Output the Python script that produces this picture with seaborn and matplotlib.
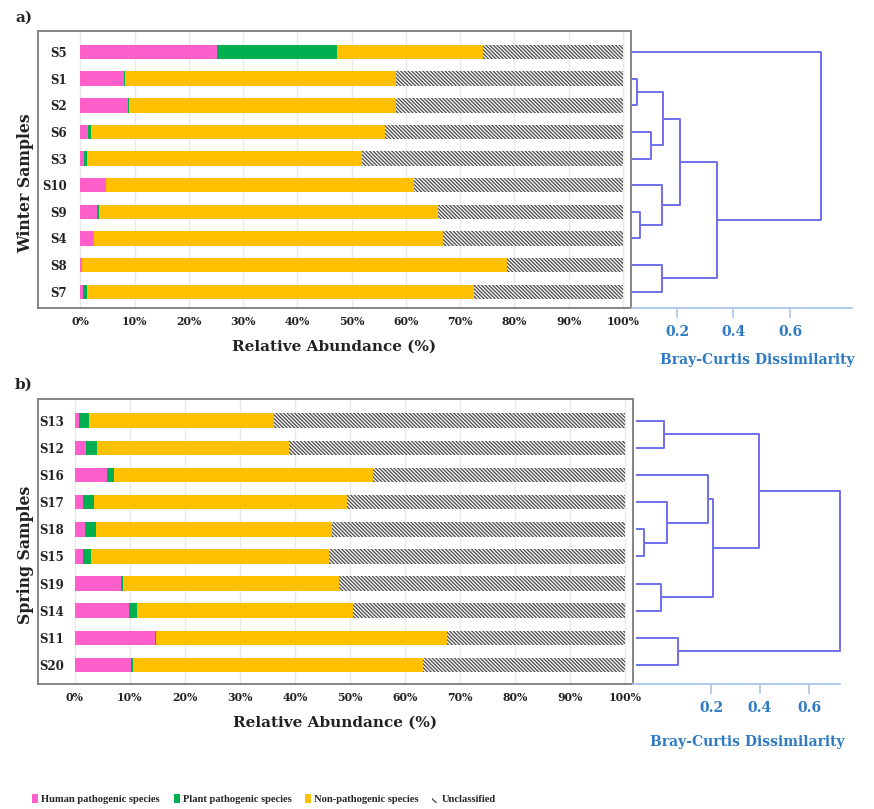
import matplotlib
matplotlib.use("Agg")
import matplotlib.pyplot as plt
from matplotlib.patches import Patch
import pandas as pd
import seaborn as sns

sns.set_theme(style="white")
plt.rcParams["font.family"] = ["DejaVu Serif"]
plt.rcParams["hatch.linewidth"] = 1.0

W, H = 874, 809

# relative abundance (%) per sample
winter_samples = ["S5", "S1", "S2", "S6", "S3", "S10", "S9", "S4", "S8", "S7"]
winter_human = [25.2, 8.0, 8.7, 1.5, 0.7, 4.8, 3.0, 2.6, 0.3, 0.5]
winter_plant = [22.1, 0.2, 0.3, 0.5, 0.5, 0.0, 0.4, 0.0, 0.0, 0.7]
winter_nonpath = [26.9, 50.0, 49.1, 54.2, 50.8, 56.7, 62.5, 64.2, 78.3, 71.4]

spring_samples = ["S13", "S12", "S16", "S17", "S18", "S15", "S19", "S14", "S11", "S20"]
spring_human = [0.7, 2.1, 5.9, 1.5, 1.9, 1.5, 8.4, 9.9, 14.5, 10.2]
spring_plant = [1.8, 2.0, 1.2, 1.9, 1.9, 1.5, 0.4, 1.4, 0.3, 0.3]
spring_nonpath = [33.7, 34.9, 47.1, 46.0, 43.0, 43.2, 39.3, 39.3, 52.9, 52.8]

# Bray-Curtis clustering: (child, child, height); ints refer to earlier merges
winter_merges = [
    ("S1", "S2", 0.058), ("S6", "S3", 0.107), (0, 1, 0.149),
    ("S9", "S4", 0.069), ("S10", 3, 0.146), (2, 4, 0.211),
    ("S8", "S7", 0.148), (5, 6, 0.340), ("S5", 7, 0.711),
]
spring_merges = [
    ("S13", "S12", 0.155), ("S18", "S15", 0.083), ("S17", 1, 0.164),
    ("S16", 2, 0.311), ("S19", "S14", 0.143), (3, 4, 0.327),
    (0, 5, 0.489), ("S11", "S20", 0.205), (6, 7, 0.776),
]
bc_ticks = [0.2, 0.4, 0.6]

categories = ["Human pathogenic species", "Plant pathogenic species",
              "Non-pathogenic species", "Unclassified"]
colors = ["#FF5FCB", "#00B050", "#FFC000", "white"]
HATCH = "\\" * 9
HATCH_COLOR = "#555555"
DENDRO_COLOR = "#6F6FEA"
SCALE_COLOR = "#A8C6EC"
BLUE_TEXT = "#2E7BC4"


def px_rect(x0, y0, x1, y1):
    return [x0 / W, 1 - y1 / H, (x1 - x0) / W, (y1 - y0) / H]


def stacked_bars(ax, samples, human, plant, nonpath, xlim, ylim, pad):
    df = pd.DataFrame({"sample": samples, "human": human,
                       "plant": plant, "nonpath": nonpath})
    df["c1"] = df["human"]
    df["c2"] = df["c1"] + df["plant"]
    df["c3"] = df["c2"] + df["nonpath"]
    df["c4"] = 100.0

    layers = [("c4", colors[3]), ("c3", colors[2]), ("c2", colors[1]), ("c1", colors[0])]
    for col, color in layers:
        n = len(ax.patches)
        sns.barplot(data=df, x=col, y="sample", orient="h", color=color,
                    saturation=1, width=0.54, errorbar=None, linewidth=0, ax=ax)
        if col == "c4":
            for p in ax.patches[n:]:
                p.set_hatch(HATCH)
                p.set_edgecolor(HATCH_COLOR)
                p.set_linewidth(0)

    ax.set_xlim(*xlim)
    ax.set_ylim(*ylim)
    ax.set_xticks(range(0, 101, 10))
    ax.set_xticklabels([f"{v}%" for v in range(0, 101, 10)],
                       fontsize=7.8, fontweight="bold", color="#222222")
    ax.tick_params(axis="x", length=0, pad=6)
    ax.tick_params(axis="y", length=0, pad=pad)
    for t in ax.get_yticklabels():
        t.set_fontweight("bold")
        t.set_fontsize(8.5)
        t.set_color("#222222")
    ax.xaxis.grid(True, color="#e9e9e9", lw=1.0)
    ax.set_axisbelow(True)
    for s in ax.spines.values():
        s.set_color("#858585")
        s.set_linewidth(1.4)
    ax.set_xlabel("Relative Abundance (%)", fontsize=11, fontweight="bold",
                  color="#222222", labelpad=9)


def dendrogram(ax, leaves, merges, xlim, ylim):
    pos = {name: i for i, name in enumerate(leaves)}
    height = {name: 0.0 for name in leaves}
    for k, (a, b, h) in enumerate(merges):
        for child in (a, b):
            ax.plot([height[child], h], [pos[child], pos[child]],
                    color=DENDRO_COLOR, lw=1.4, solid_capstyle="butt")
        ax.plot([h, h], [pos[a], pos[b]], color=DENDRO_COLOR, lw=1.4)
        pos[k] = (pos[a] + pos[b]) / 2
        height[k] = h
    ax.set_xlim(*xlim)
    ax.set_ylim(*ylim)
    ax.axis("off")


def scale_bar(fig, x0, x1, y, xlim):
    sax = fig.add_axes(px_rect(x0, y - 0.5, x1, y))
    sax.set_xlim(*xlim)
    sax.set_yticks([])
    for side in ["top", "left", "right"]:
        sax.spines[side].set_visible(False)
    sax.spines["bottom"].set_color(SCALE_COLOR)
    sax.spines["bottom"].set_linewidth(1.3)
    sax.patch.set_alpha(0)
    sax.set_xticks(bc_ticks)
    sax.set_xticklabels([f"{t:.1f}" for t in bc_ticks], fontsize=10,
                        fontweight="bold", color=BLUE_TEXT)
    sax.tick_params(axis="x", bottom=True, direction="out", length=7, width=1.2,
                    color=SCALE_COLOR, pad=5)
    return sax


fig = plt.figure(figsize=(W / 100, H / 100), dpi=100)

# ---- a) winter
ax1 = fig.add_axes(px_rect(37.5, 31, 631, 308))
stacked_bars(ax1, winter_samples, winter_human, winter_plant, winter_nonpath,
             xlim=(-7.9, 101.5), ylim=(9.61, -0.79), pad=-21.5)
ax1.set_ylabel("Winter Samples", fontsize=11.3, fontweight="bold", color="#222222")
ax1.yaxis.set_label_coords(-0.006, 0.45)

d1 = fig.add_axes(px_rect(632, 31, 852, 308))
dendrogram(d1, winter_samples, winter_merges, xlim=(0.0407, 0.8195), ylim=(9.61, -0.79))
scale_bar(fig, 632, 852, 308, (0.0407, 0.8195))
fig.text(757 / W, 1 - 360 / H, "Bray-Curtis Dissimilarity", ha="center", va="center",
         fontsize=10, fontweight="bold", color=BLUE_TEXT)

# ---- b) spring
ax2 = fig.add_axes(px_rect(38, 399, 633, 684))
stacked_bars(ax2, spring_samples, spring_human, spring_plant, spring_nonpath,
             xlim=(-6.7, 101.45), ylim=(9.7, -0.8), pad=-18.5)
ax2.set_ylabel("Spring Samples", fontsize=11.3, fontweight="bold", color="#222222")
ax2.yaxis.set_label_coords(-0.006, 0.453)

d2 = fig.add_axes(px_rect(636, 399, 852, 684))
dendrogram(d2, spring_samples, spring_merges, xlim=(0.055, 0.82), ylim=(9.7, -0.8))
scale_bar(fig, 633, 840, 684, (-0.118, 0.7265))
fig.text(747 / W, 1 - 742 / H, "Bray-Curtis Dissimilarity", ha="center", va="center",
         fontsize=10, fontweight="bold", color=BLUE_TEXT)

fig.text(15 / W, 1 - 18 / H, "a)", ha="left", va="center", fontsize=11, fontweight="bold")
fig.text(15 / W, 1 - 385 / H, "b)", ha="left", va="center", fontsize=11, fontweight="bold")

handles = [Patch(facecolor=colors[0], edgecolor="none"),
           Patch(facecolor=colors[1], edgecolor="none"),
           Patch(facecolor=colors[2], edgecolor="none"),
           Patch(facecolor="white", edgecolor=HATCH_COLOR, hatch="\\\\\\", linewidth=0)]
fig.legend(handles, categories, loc="center", bbox_to_anchor=(264 / W, 1 - 799 / H),
           ncol=4, frameon=False, handlelength=0.55, handleheight=0.9, handletextpad=0.3,
           columnspacing=1.3, prop={"family": "Liberation Serif", "weight": "bold", "size": 7.6})

fig.savefig("out.png", dpi=100)
